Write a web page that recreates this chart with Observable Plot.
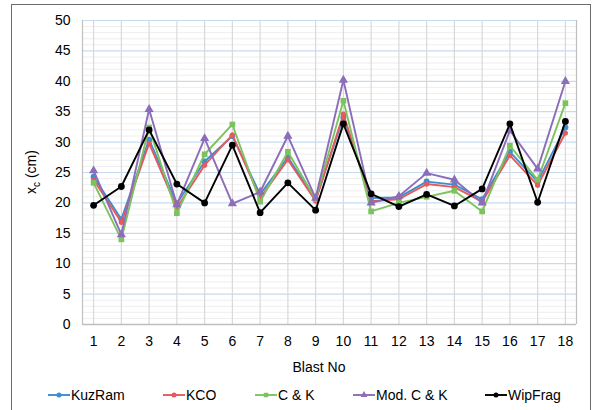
<!DOCTYPE html>
<html><head><meta charset="utf-8">
<script src="https://cdn.jsdelivr.net/npm/d3@7"></script>
<script src="https://cdn.jsdelivr.net/npm/@observablehq/plot@0.6"></script>
<style>
body{margin:0;background:#fff;}
#wrap{position:relative;width:592px;height:410px;overflow:hidden;}
#frame{position:absolute;left:11px;top:4px;width:578px;height:440px;border:1.5px solid #6b6b6b;pointer-events:none;}
#chart svg{display:block;}
</style></head><body>
<div id="wrap"><div id="chart"></div><div id="frame"></div></div>
<script>
const blasts = [1,2,3,4,5,6,7,8,9,10,11,12,13,14,15,16,17,18];
const yTicks = [0,5,10,15,20,25,30,35,40,45,50];
const kuzram  = [24.3,17.3,30.4,19.9,26.8,31.0,21.4,27.5,20.5,34.1,20.8,20.9,23.5,23.0,20.6,28.4,23.5,32.4];
const kco     = [23.8,16.8,29.8,19.2,26.2,31.2,20.8,27.1,20.3,34.6,20.3,20.6,23.1,22.6,20.2,27.8,22.9,31.5];
const ck      = [23.3,14.0,32.4,18.3,28.0,32.9,20.2,28.4,20.6,36.8,18.6,20.0,21.0,22.0,18.6,29.4,23.8,36.4];
const modck   = [25.3,14.8,35.4,19.7,30.6,19.9,21.8,31.0,20.8,40.2,20.0,21.1,24.9,23.8,20.0,31.9,25.6,40.0];
const wipfrag = [19.6,22.7,32.0,23.1,20.0,29.5,18.4,23.3,18.8,33.0,21.5,19.4,21.4,19.5,22.3,33.0,20.1,33.4];
const seriesNames = ["KuzRam","KCO","C & K","Mod. C & K","WipFrag"];
const seriesValues = [kuzram,kco,ck,modck,wipfrag];
const seriesColors = ["#3a8fd3","#e55a5c","#7cc35f","#8b6db9","#000000"];
const seriesSymbols = ["circle","circle","square","triangle","circle"];
const seriesR = [3,2.6,3.2,3.4,3.4];

const data = seriesNames.flatMap((name,si)=>seriesValues[si].map((v,i)=>({blast:blasts[i],value:v,series:name})));

const font = "'Liberation Sans', Arial, sans-serif";
const marks = [
  Plot.ruleY(d3.range(0,51,1).filter(v=>v%5!==0), {stroke:"#eeeeee", strokeWidth:1}),
  Plot.ruleY(yTicks.filter(v=>v>0), {stroke:"#c6dbf0", strokeWidth:1.2}),
  Plot.ruleX(blasts, {stroke:"#d9d9d9", strokeWidth:1.2}),
  Plot.ruleX([0.6,18.4], {stroke:"#bfbfbf", strokeWidth:1.2}),
  Plot.ruleY([0], {stroke:"#bfbfbf", strokeWidth:1.5}),
  Plot.axisX({ticks:blasts, tickFormat:d=>String(d), tickSize:0, tickPadding:12, label:null, fontSize:14}),
  Plot.axisY({ticks:yTicks, tickSize:0, tickPadding:12, label:null, fontSize:14})
];
seriesNames.forEach((name,si)=>{
  const d = data.filter(r=>r.series===name);
  marks.push(Plot.line(d,{x:"blast",y:"value",stroke:seriesColors[si],strokeWidth:1.9}));
  marks.push(Plot.dot(d,{x:"blast",y:"value",fill:seriesColors[si],symbol:seriesSymbols[si],r:seriesR[si],stroke:"none"}));
});

const plot = Plot.plot({
  width:592, height:410,
  marginLeft:82, marginRight:16, marginTop:20, marginBottom:86,
  style:{fontFamily:font, fontSize:"14px", background:"transparent", color:"#000"},
  x:{type:"linear", domain:[0.6,18.4]},
  y:{domain:[0,50]},
  marks
});
document.getElementById("chart").append(plot);

const svg = d3.select(plot);
// y axis title with subscript
const yt = svg.append("text")
  .attr("transform","translate(36,172) rotate(-90)")
  .attr("text-anchor","middle")
  .attr("font-family",font).attr("font-size",14).attr("fill","#000");
yt.append("tspan").text("x");
yt.append("tspan").attr("font-size",10).attr("dy",4).text("c");
yt.append("tspan").attr("dy",-4).text(" (cm)");
// x axis title
svg.append("text").attr("x",319).attr("y",367).attr("dy","0.35em")
  .attr("text-anchor","middle").attr("font-family",font).attr("font-size",14).attr("fill","#000")
  .text("Blast No");
// legend
const legendX = [48,163,255,353,485];
const lg = svg.append("g").attr("font-family",font).attr("font-size",14).attr("text-anchor","start");
seriesNames.forEach((name,si)=>{
  const x0 = legendX[si], y0 = 395;
  lg.append("line").attr("x1",x0).attr("x2",x0+22).attr("y1",y0).attr("y2",y0)
    .attr("stroke",seriesColors[si]).attr("stroke-width",1.9);
  const sym = d3.symbol().type(seriesSymbols[si]==="square"?d3.symbolSquare:seriesSymbols[si]==="triangle"?d3.symbolTriangle:d3.symbolCircle).size(20);
  lg.append("path").attr("d",sym()).attr("transform",`translate(${x0+11},${y0})`).attr("fill",seriesColors[si]);
  lg.append("text").attr("x",x0+23).attr("y",y0).attr("dy","0.35em").attr("text-anchor","start").attr("fill","#000").text(name);
});
</script>
</body></html>
